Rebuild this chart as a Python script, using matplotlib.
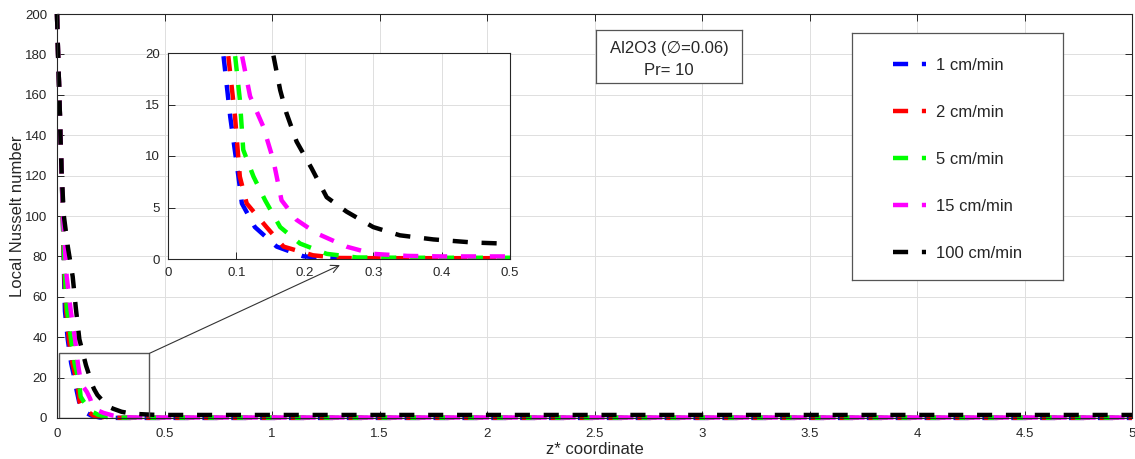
import matplotlib
matplotlib.use("Agg")
import matplotlib.pyplot as plt
from matplotlib.patches import Rectangle

plt.rcParams['font.family'] = ['Liberation Sans', 'DejaVu Sans']

# Flow velocities and their line colours
labels = ['1 cm/min', '2 cm/min', '5 cm/min', '15 cm/min', '100 cm/min']
colors = ['#0000ff', '#ff0000', '#00ff00', '#ff00ff', '#000000']

# Local Nusselt number along the dimensionless axial coordinate z*
z_1 = [0, 0.005, 0.011, 0.016, 0.022, 0.027, 0.033, 0.037, 0.05, 0.066, 0.081,
       0.091, 0.103, 0.108, 0.127, 0.159, 0.198, 0.24, 0.3, 0.5, 1, 2, 3, 4, 5]
nu_1 = [200, 180, 160, 140, 120, 100, 70, 53, 39, 27, 19.8,
        13.8, 8.0, 5.4, 3.1, 1.2, 0.26, 0.06, 0.05, 0.05, 0.05, 0.05, 0.05, 0.05, 0.05]

z_2 = [0, 0.005, 0.011, 0.016, 0.022, 0.027, 0.034, 0.042, 0.055, 0.072, 0.088,
       0.098, 0.105, 0.115, 0.144, 0.169, 0.212, 0.25, 0.3, 0.5, 1, 2, 3, 4, 5]
nu_2 = [200, 180, 160, 140, 120, 100, 72, 54, 39, 27, 19.8,
        13.8, 8.0, 5.4, 3.1, 1.2, 0.36, 0.1, 0.08, 0.08, 0.08, 0.08, 0.08, 0.08, 0.08]

z_3 = [0, 0.005, 0.011, 0.016, 0.022, 0.027, 0.036, 0.046, 0.065, 0.082, 0.098,
       0.105, 0.11, 0.125, 0.142, 0.164, 0.193, 0.232, 0.276, 0.35, 0.5, 1, 2, 3, 4, 5]
nu_3 = [200, 180, 160, 140, 120, 100, 72, 54, 39, 27, 19.8,
        15.5, 10.6, 8.0, 5.7, 3.1, 1.5, 0.5, 0.15, 0.12, 0.12, 0.12, 0.12, 0.12, 0.12, 0.12]

z_4 = [0, 0.005, 0.011, 0.016, 0.022, 0.028, 0.045, 0.064, 0.084, 0.097, 0.108,
       0.12, 0.139, 0.154, 0.166, 0.188, 0.217, 0.261, 0.30, 0.35, 0.4, 0.5, 1, 2, 3, 4, 5]
nu_4 = [200, 180, 160, 140, 120, 100, 70, 53, 39, 27, 19.8,
        15.8, 12.9, 9.6, 5.7, 3.8, 2.5, 1.2, 0.5, 0.3, 0.25, 0.25, 0.25, 0.25, 0.25, 0.25, 0.25]

z_5 = [0, 0.005, 0.011, 0.016, 0.022, 0.032, 0.05, 0.073, 0.088, 0.104, 0.135,
       0.154, 0.164, 0.173, 0.188, 0.21, 0.232, 0.261, 0.30, 0.339, 0.388, 0.446, 0.49,
       1, 2, 3, 4, 5]
nu_5 = [200, 180, 160, 140, 120, 100, 85, 70, 54, 39, 26,
        19.8, 16.4, 14.2, 11.4, 8.8, 6.0, 4.6, 3.1, 2.3, 1.9, 1.6, 1.5,
        1.5, 1.5, 1.5, 1.5, 1.5]

series_z = [z_1, z_2, z_3, z_4, z_5]
series_nu = [nu_1, nu_2, nu_3, nu_4, nu_5]

x_ticks = [0, 0.5, 1, 1.5, 2, 2.5, 3, 3.5, 4, 4.5, 5]
x_tick_labels = ['0', '0.5', '1', '1.5', '2', '2.5', '3', '3.5', '4', '4.5', '5']
y_ticks = [0, 20, 40, 60, 80, 100, 120, 140, 160, 180, 200]
inset_x_ticks = [0, 0.1, 0.2, 0.3, 0.4, 0.5]
inset_y_ticks = [0, 5, 10, 15, 20]

LW = 3.2
DASH = (0, (3.4, 3.1))
AX_COL = '#262626'
GRID_COL = '#dedede'

W, H = 1135, 459
fig = plt.figure(figsize=(W / 100, H / 100), dpi=100)


def fbox(x0, y0, x1, y1):
    """Pixel box (left, top, right, bottom) -> figure fraction rect."""
    return [x0 / W, 1 - y1 / H, (x1 - x0) / W, (y1 - y0) / H]


def style_axes(ax, fs, pad):
    ax.grid(True, color=GRID_COL, lw=0.7)
    ax.set_axisbelow(True)
    ax.tick_params(direction='in', top=True, right=True, length=5,
                   width=0.7, colors=AX_COL, labelsize=fs, pad=pad)
    for sp in ax.spines.values():
        sp.set_color(AX_COL)
        sp.set_linewidth(0.8)


ax = fig.add_axes(fbox(57, 14, 1132, 418))
for z, nu, c, lab in zip(series_z, series_nu, colors, labels):
    ax.plot(z, nu, color=c, lw=LW, linestyle=DASH, label=lab, clip_on=False)
ax.set_xlim(0, 5)
ax.set_ylim(0, 200)
ax.set_xticks(x_ticks)
ax.set_xticklabels(x_tick_labels)
ax.set_yticks(y_ticks)
style_axes(ax, 9.5, 7)
ax.set_xlabel('z* coordinate', fontsize=12, color=AX_COL, labelpad=2)
ax.set_ylabel('Local Nusselt number', fontsize=12, color=AX_COL, labelpad=0)

# Zoom window on the entrance region and the pointer to the inset
ax.add_patch(Rectangle((0.01, 0), 0.42, 32, fill=False, ec='#555555', lw=1.0, zorder=5))
ax.annotate('', xy=(1.316, 75.7), xytext=(0.43, 32),
            arrowprops=dict(arrowstyle='->', color='#333333', lw=0.8,
                            mutation_scale=14, shrinkA=0, shrinkB=0),
            zorder=6)

# Inset: entrance region
axi = fig.add_axes(fbox(168, 53, 510, 259))
for z, nu, c in zip(series_z, series_nu, colors):
    axi.plot(z, nu, color=c, lw=LW, linestyle=DASH)
axi.set_xlim(0, 0.5)
axi.set_ylim(0, 20)
axi.set_xticks(inset_x_ticks)
axi.set_xticklabels(['0', '0.1', '0.2', '0.3', '0.4', '0.5'])
axi.set_yticks(inset_y_ticks)
style_axes(axi, 9.5, 6)
axi.tick_params(top=False, right=False)

# Annotation box with nanofluid info
tb = fig.add_axes(fbox(596, 30, 742, 83))
tb.set_xticks([]); tb.set_yticks([])
for sp in tb.spines.values():
    sp.set_color('#555555'); sp.set_linewidth(0.9)
tb.text(0.5, 0.66, 'Al2O3 (\u2205=0.06)', ha='center', va='center', fontsize=12,
        color=AX_COL, transform=tb.transAxes)
tb.text(0.5, 0.23, 'Pr= 10', ha='center', va='center', fontsize=12,
        color=AX_COL, transform=tb.transAxes)

# Legend with its own frame
lb = fig.add_axes(fbox(852, 33, 1063, 280))
lb.set_xticks([]); lb.set_yticks([])
for sp in lb.spines.values():
    sp.set_color('#555555'); sp.set_linewidth(0.9)
handles, leg_labels = ax.get_legend_handles_labels()
lb.legend(handles, leg_labels, loc='center', bbox_to_anchor=(0.5, 0.488),
          frameon=False, fontsize=12, labelspacing=1.93, handlelength=2.0,
          handletextpad=0.6, labelcolor=AX_COL)

fig.savefig('out.png', dpi=100)
